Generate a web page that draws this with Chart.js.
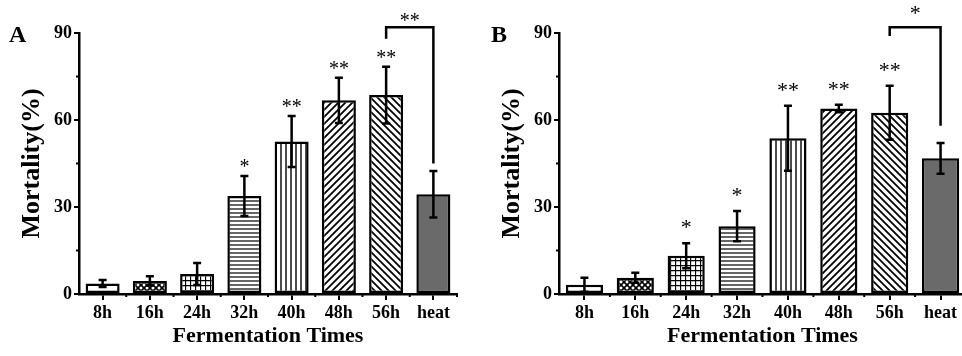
<!DOCTYPE html>
<html>
<head>
<meta charset="utf-8">
<script src="https://cdn.jsdelivr.net/npm/chart.js@4.4.1/dist/chart.umd.min.js"></script>
<style>
    html, body { margin: 0; padding: 0; background: #fff; overflow: hidden; }
    body { width: 962px; height: 356px; position: relative; }
    .panel { position: absolute; top: 0; height: 356px; }
    #panelA { left: 0; width: 480px; }
    #panelB { left: 480px; width: 490px; }
    .tag { position: absolute; top: 21px; font: bold 24px "Liberation Serif", serif; color: #000; }
</style>
</head>
<body>
<div class="panel" id="panelA"><canvas id="chartA"></canvas></div>
<div class="panel" id="panelB"><canvas id="chartB"></canvas></div>
<div class="tag" style="left:9px">A</div>
<div class="tag" style="left:491px">B</div>

<script>
// values (mean and +/- error, %)
const categories = ["8h", "16h", "24h", "32h", "40h", "48h", "56h", "heat"];
const yTicks = [0, 30, 60, 90];

const mortalityA = [3.6, 4.5, 6.9, 33.8, 52.6, 66.8, 68.6, 34.4];
const errorA     = [1.2, 1.6, 3.8, 6.9, 8.8, 7.8, 9.8, 8.0];
const marksA     = ["", "", "", "*", "**", "**", "**", ""];

const mortalityB = [3.2, 5.6, 13.2, 23.4, 53.7, 64.0, 62.5, 46.8];
const errorB     = [2.4, 1.7, 4.3, 5.2, 11.2, 1.3, 9.3, 5.3];
const marksB     = ["", "", "*", "*", "**", "**", "**", ""];

// 56h vs heat comparison: [from, to, top, leftEnd, rightEnd, mark]
const bracketA = [6, 7, 92, 88, 45, "**"];
const bracketB = [6, 7, 92, 89, 58, "*"];

const FONT = "'Liberation Serif', 'Times New Roman', serif";

/* ------------------------------
   fill patterns for the bars
--------------------------------*/
function makePattern(size, draw) {
    const c = document.createElement("canvas");
    c.width = size; c.height = size;
    const g = c.getContext("2d");
    g.fillStyle = "#fff";
    g.fillRect(0, 0, size, size);
    g.strokeStyle = "#000";
    draw(g, size);
    return g.createPattern(c, "repeat");
}

function diag(g, s, up) {
    g.beginPath();
    if (up) {
        g.moveTo(-1, s + 1); g.lineTo(s + 1, -1);
        g.moveTo(-1, 1); g.lineTo(1, -1);
        g.moveTo(s - 1, s + 1); g.lineTo(s + 1, s - 1);
    } else {
        g.moveTo(-1, -1); g.lineTo(s + 1, s + 1);
        g.moveTo(s - 1, -1); g.lineTo(s + 1, 1);
        g.moveTo(-1, s - 1); g.lineTo(1, s + 1);
    }
    g.stroke();
}

const fills = [
    "#fff",
    makePattern(6, (g, s) => { g.lineWidth = 1.6; diag(g, s, true); diag(g, s, false); }),
    makePattern(5, (g, s) => { g.lineWidth = 1.3; g.beginPath(); g.moveTo(0, 0.5); g.lineTo(s, 0.5); g.moveTo(0.5, 0); g.lineTo(0.5, s); g.stroke(); }),
    makePattern(4, (g, s) => { g.lineWidth = 1.2; g.beginPath(); g.moveTo(0, 1); g.lineTo(s, 1); g.stroke(); }),
    makePattern(5, (g, s) => { g.lineWidth = 1.4; g.beginPath(); g.moveTo(1, 0); g.lineTo(1, s); g.stroke(); }),
    makePattern(7, (g, s) => { g.lineWidth = 1.8; diag(g, s, true); }),
    makePattern(7, (g, s) => { g.lineWidth = 1.8; diag(g, s, false); }),
    "#6a6a6a"
];

/* ------------------------------
   error bars, stars, bracket, minor ticks
--------------------------------*/
const extras = {
    id: "extras",
    afterDatasetsDraw(chart, args, o) {
        const ctx = chart.ctx;
        const x = chart.scales.x, y = chart.scales.y;
        const vals = chart.data.datasets[0].data;

        ctx.save();
        ctx.strokeStyle = "#000";
        ctx.fillStyle = "#000";
        ctx.lineWidth = 2.5;

        vals.forEach((v, i) => {
            const e = o.errors[i];
            const px = x.getPixelForValue(i);
            const top = y.getPixelForValue(v + e);
            const bot = y.getPixelForValue(Math.max(0, v - e));
            ctx.beginPath();
            ctx.moveTo(px, top); ctx.lineTo(px, bot);
            ctx.moveTo(px - 4, top); ctx.lineTo(px + 4, top);
            ctx.moveTo(px - 4, bot); ctx.lineTo(px + 4, bot);
            ctx.stroke();

            if (o.marks[i]) {
                ctx.font = o.starSize + "px " + FONT;
                ctx.textAlign = "center";
                ctx.textBaseline = "middle";
                ctx.fillText(o.marks[i], px, top - o.starGap + o.starSize * 0.2);
            }
        });

        // comparison bracket
        const b = o.bracket;
        const x1 = x.getPixelForValue(b[0]), x2 = x.getPixelForValue(b[1]);
        ctx.beginPath();
        ctx.moveTo(x1, y.getPixelForValue(b[3]));
        ctx.lineTo(x1, y.getPixelForValue(b[2]));
        ctx.lineTo(x2, y.getPixelForValue(b[2]));
        ctx.lineTo(x2, y.getPixelForValue(b[4]));
        ctx.stroke();
        ctx.font = o.starSize + "px " + FONT;
        ctx.textAlign = "center";
        ctx.textBaseline = "middle";
        ctx.fillText(b[5], (x1 + x2) / 2, y.getPixelForValue(b[2]) - o.bracketGap + o.starSize * 0.2);

        // minor ticks
        ctx.lineWidth = 2;
        const left = chart.chartArea.left, bottom = chart.chartArea.bottom;
        [15, 45, 75].forEach(t => {
            const py = y.getPixelForValue(t);
            ctx.beginPath(); ctx.moveTo(left - 3, py); ctx.lineTo(left, py); ctx.stroke();
        });
        for (let i = 0; i < vals.length; i++) {
            const px = (x.getPixelForValue(i) + x.getPixelForValue(i + 1)) / 2;
            ctx.beginPath(); ctx.moveTo(px, bottom); ctx.lineTo(px, bottom + 3); ctx.stroke();
        }
        ctx.restore();
    }
};

function renderPanel(id, values, errors, marks, bracket, style) {
    const ctx = document.getElementById(id);
    ctx.width = style.width;
    ctx.height = 356;

    return new Chart(ctx, {
        type: "bar",
        data: {
            labels: categories,
            datasets: [{
                data: values,
                backgroundColor: fills,
                borderColor: "#000",
                borderWidth: 2.5,
                borderSkipped: false,
                barPercentage: style.barPct,
                categoryPercentage: 1
            }]
        },
        options: {
            responsive: false,
            animation: false,
            layout: { padding: { top: 33, right: style.padRight, left: 0, bottom: 0 } },
            plugins: {
                legend: { display: false },
                tooltip: { enabled: false },
                extras: {
                    errors: errors, marks: marks, bracket: bracket,
                    starSize: style.starSize, starGap: style.starGap, bracketGap: style.bracketGap
                }
            },
            scales: {
                x: {
                    afterFit: s => { s.height = 62; },
                    grid: { offset: false, drawOnChartArea: false, tickLength: 6, color: "#000", lineWidth: 2 },
                    border: { display: true, color: "#000", width: 2.5 },
                    ticks: { color: "#000", padding: 3, font: { family: FONT, size: 18, weight: "bold" } },
                    title: {
                        display: true, text: "Fermentation Times", color: "#000",
                        font: { family: FONT, size: 22, weight: "bold" },
                        padding: { top: 0, bottom: 6 }
                    }
                },
                y: {
                    min: 0, max: 90,
                    afterFit: s => { s.width = 79; },
                    afterBuildTicks: s => { s.ticks = yTicks.map(v => ({ value: v })); },
                    grid: { drawOnChartArea: false, tickLength: 5, color: "#000", lineWidth: 2 },
                    border: { display: true, color: "#000", width: 2.5 },
                    ticks: { color: "#000", padding: 2, font: { family: FONT, size: 18, weight: "bold" } },
                    title: {
                        display: true, text: "Mortality(%)", color: "#000",
                        font: { family: FONT, size: 26, weight: "bold" },
                        padding: { top: 17, bottom: 0 }
                    }
                }
            }
        },
        plugins: [extras]
    });
}

renderPanel("chartA", mortalityA, errorA, marksA, bracketA,
    { width: 480, padRight: 23, barPct: 0.72, starSize: 20, starGap: 12, bracketGap: 9 });
renderPanel("chartB", mortalityB, errorB, marksB, bracketB,
    { width: 490, padRight: 4, barPct: 0.73, starSize: 22, starGap: 19, bracketGap: 17 });
</script>
</body>
</html>
